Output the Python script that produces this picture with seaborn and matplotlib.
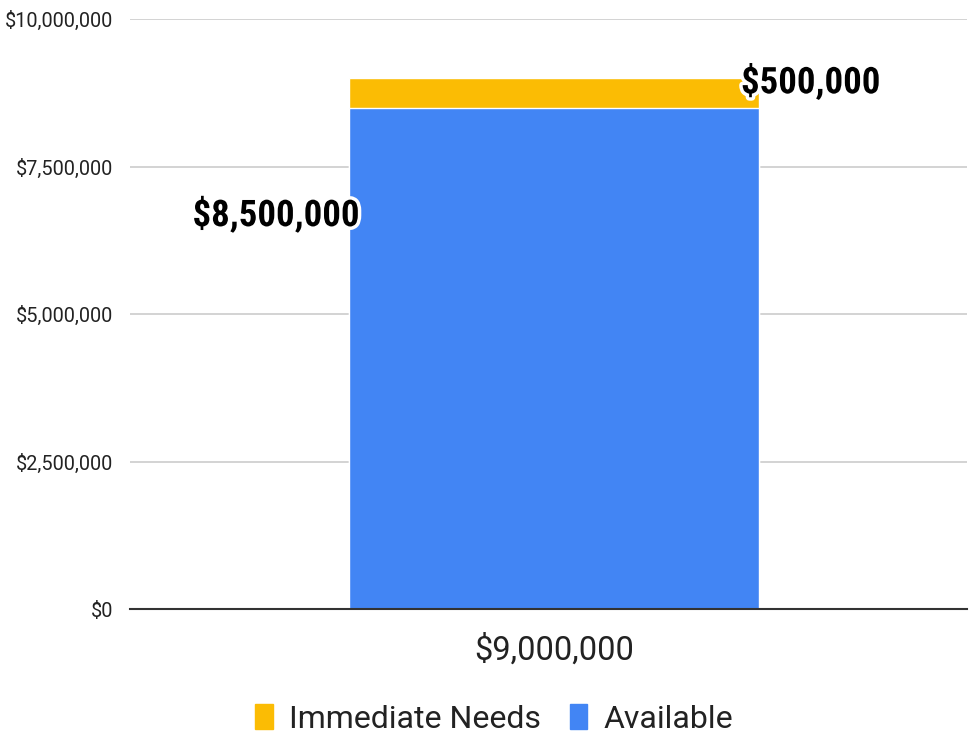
import numpy as np
import pandas as pd
import matplotlib
matplotlib.use("Agg")
import matplotlib.pyplot as plt
import matplotlib.patheffects as pe
from matplotlib.ticker import FuncFormatter
import seaborn as sns

categories = ["$9,000,000"]
available = [8500000]
immediate_needs = [500000]
series_names = ["Immediate Needs", "Available"]
yticks = [0, 2500000, 5000000, 7500000, 10000000]

BLUE = "#4285F4"
YELLOW = "#FBBC04"

sns.set_theme(style="white")
plt.rcParams["font.family"] = ["Roboto", "DejaVu Sans"]

df = pd.DataFrame({"cat": categories,
                   "available": available,
                   "needs": immediate_needs})
df["total"] = df["available"] + df["needs"]

fig = plt.figure(figsize=(9.69, 7.35), dpi=100)
ax = fig.add_axes([0.134, 0.171, 0.864, 0.803])

# stacked look: total in yellow, available drawn over it
sns.barplot(data=df, x="cat", y="total", color=YELLOW, width=0.49,
            saturation=1, ax=ax)
sns.barplot(data=df, x="cat", y="available", color=BLUE, width=0.49,
            saturation=1, ax=ax)

ax.set_xlim(-0.507, 0.493)
ax.set_ylim(0, 10000000)
ax.set_yticks(yticks)
ax.yaxis.set_major_formatter(FuncFormatter(lambda v, p: f"${v:,.0f}"))
ax.grid(axis="y", color="#cccccc", linewidth=1.2)
ax.set_axisbelow(True)
for s in ["top", "right", "left"]:
    ax.spines[s].set_visible(False)
ax.spines["bottom"].set_color("#333333")
ax.spines["bottom"].set_linewidth(1.5)
ax.spines["bottom"].set_zorder(5)
ax.tick_params(axis="y", labelsize=14.3, colors="#222222", length=0, pad=12)
ax.tick_params(axis="x", labelsize=23.5, colors="#222222", length=0, pad=18)
ax.set_xlabel("")
ax.set_ylabel("")

stroke = [pe.withStroke(linewidth=5, foreground="white")]
bar = ax.patches[-1]
x0 = bar.get_x()
x1 = bar.get_x() + bar.get_width()
ax.text(x0 + 0.012, 6680000, f"${available[0]:,.0f}", ha="right", va="center",
        fontsize=26.5, fontweight="bold", color="black", path_effects=stroke,
        family=["Roboto Condensed", "Roboto"])
ax.text(x1 - 0.022, 8930000, f"${immediate_needs[0]:,.0f}", ha="left", va="center",
        fontsize=26.5, fontweight="bold", color="black", path_effects=stroke,
        family=["Roboto Condensed", "Roboto"])

handles = [plt.Rectangle((0, 0), 1, 1, color=YELLOW),
           plt.Rectangle((0, 0), 1, 1, color=BLUE)]
fig.legend(handles, series_names, loc="center", bbox_to_anchor=(0.51, 0.022),
           ncol=2, frameon=False, fontsize=23, handlelength=0.55,
           handleheight=0.85, handletextpad=0.5, columnspacing=0.9,
           labelcolor="#222222")

fig.savefig("out.png", dpi=100)
